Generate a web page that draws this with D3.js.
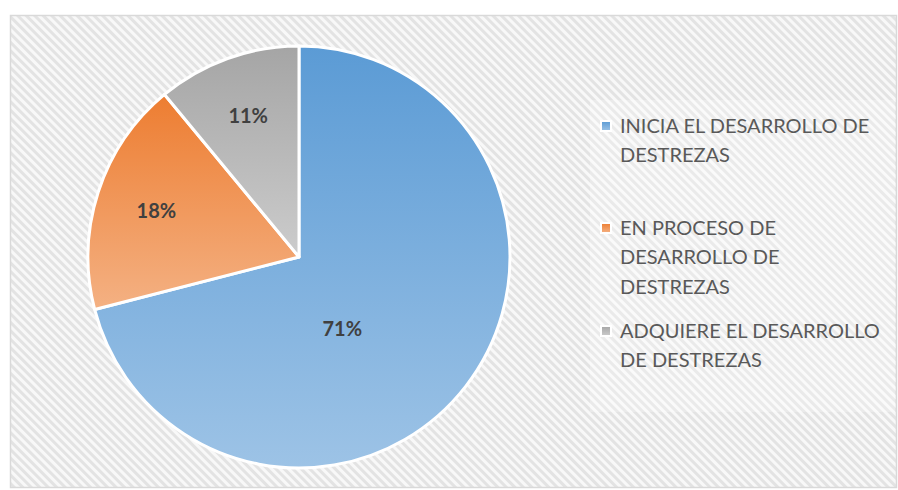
<!DOCTYPE html>
<html>
<head>
<meta charset="utf-8">
<script src="https://cdn.jsdelivr.net/npm/d3@7"></script>
<style>
  body { margin: 0; background: #fff; }
  svg { display: block; font-family: Lato, "Open Sans", sans-serif; }
</style>
</head>
<body>
<div id="chart"></div>
<script>
// data
const categories = ['INICIA EL DESARROLLO DE DESTREZAS', 'EN PROCESO DE DESARROLLO DE DESTREZAS', 'ADQUIERE EL DESARROLLO DE DESTREZAS']
const values = [71, 18, 11]
const legendLines = [
  ['INICIA EL DESARROLLO DE', 'DESTREZAS'],
  ['EN PROCESO DE', 'DESARROLLO DE', 'DESTREZAS'],
  ['ADQUIERE EL DESARROLLO', 'DE DESTREZAS']
]
const colorsTop = ['#5b9bd5', '#ed7d31', '#a5a5a5']
const colorsBottom = ['#9dc3e6', '#f4b183', '#cccccc']

const width = 898
const height = 490
const cx = 299, cy = 257, radius = 211

const svg = d3.select('#chart')
  .append('svg')
  .attr('width', width)
  .attr('height', height)

const defs = svg.append('defs')

// hatched background
const pat = defs.append('pattern')
  .attr('id', 'hatch')
  .attr('patternUnits', 'userSpaceOnUse')
  .attr('width', 6)
  .attr('height', 6)
  .attr('patternTransform', 'rotate(-45)')
pat.append('rect').attr('width', 6).attr('height', 6).attr('fill', '#f8f8f8')
pat.append('rect').attr('width', 3).attr('height', 6).attr('fill', '#e3e3e3')

categories.forEach((c, i) => {
  const g = defs.append('linearGradient')
    .attr('id', 'grad' + i)
    .attr('x1', 0).attr('y1', 0).attr('x2', 0).attr('y2', 1)
  g.append('stop').attr('offset', '0%').attr('stop-color', colorsTop[i])
  g.append('stop').attr('offset', '100%').attr('stop-color', colorsBottom[i])
})

svg.append('rect')
  .attr('x', 10.5)
  .attr('y', 15.5)
  .attr('width', 886)
  .attr('height', 472)
  .attr('fill', 'url(#hatch)')
  .attr('stroke', '#d9d9d9')
  .attr('stroke-width', 1.5)

// pie
const pie = d3.pie().sort(null).value(d => d)
const arc = d3.arc().innerRadius(0).outerRadius(radius)
const labelArc = d3.arc().innerRadius(150).outerRadius(150)

const g = svg.append('g').attr('transform', `translate(${cx},${cy})`)

const arcs = pie(values)

g.selectAll('path')
  .data(arcs)
  .enter()
  .append('path')
  .attr('d', arc)
  .attr('fill', (d, i) => `url(#grad${i})`)
  .attr('stroke', '#fff')
  .attr('stroke-width', 3)
  .attr('stroke-linejoin', 'round')

g.selectAll('text.pct')
  .data(arcs)
  .enter()
  .append('text')
  .attr('class', 'pct')
  .attr('transform', (d, i) => {
    // big slice label sits nearer the middle (best fit)
    const p = i === 0 ? d3.pointRadial(149 * Math.PI / 180, 84) : labelArc.centroid(d)
    return `translate(${p[0]},${p[1]})`
  })
  .attr('text-anchor', 'middle')
  .attr('dy', '0.36em')
  .style('font-size', '20px')
  .style('font-weight', 'bold')
  .attr('fill', '#404040')
  .text(d => d.data + '%')

// legend
svg.append('rect')
  .attr('x', 590)
  .attr('y', 100)
  .attr('width', 305)
  .attr('height', 312)
  .attr('fill', '#fff')
  .attr('opacity', 0.25)

const legendTop = [126, 228, 331]

const legend = svg.selectAll('g.legend')
  .data(categories)
  .enter()
  .append('g')
  .attr('class', 'legend')
  .attr('transform', (d, i) => `translate(601,${legendTop[i]})`)

legend.append('rect')
  .attr('x', 0)
  .attr('y', -5)
  .attr('width', 10)
  .attr('height', 10)
  .attr('fill', (d, i) => `url(#grad${i})`)
  .attr('stroke', '#fff')
  .attr('stroke-width', 2)

legend.each(function (d, i) {
  const t = d3.select(this).append('text')
    .attr('x', 19)
    .attr('y', 6.5)
    .style('font-size', '20px')
    .attr('fill', '#595959')
  legendLines[i].forEach((line, j) => {
    t.append('tspan')
      .attr('x', 19)
      .attr('dy', j === 0 ? 0 : 29.7)
      .text(line)
  })
})
</script>
</body>
</html>
